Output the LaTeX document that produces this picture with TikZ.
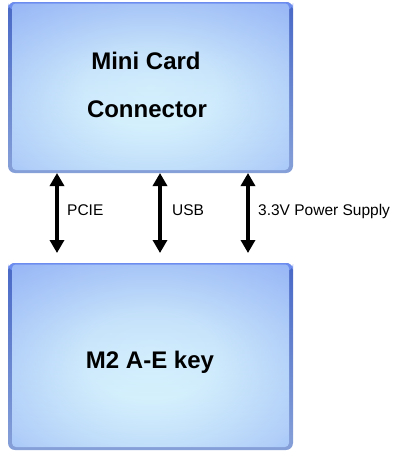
\documentclass[tikz,border=0pt]{standalone}
\usepackage{fontspec}
\setmainfont{Liberation Sans}
\usetikzlibrary{arrows.meta,fadings}
\definecolor{edgeblue}{HTML}{4868C6}
\definecolor{edgelow}{HTML}{86A0D8}
\definecolor{outerblue}{HTML}{8EAEF5}
\definecolor{topblue}{HTML}{6C8CF0}
\definecolor{innercyan}{HTML}{E4FFFF}
\pgfdeclareradialshading{cardshade}{\pgfpointorigin}{color(0bp)=(innercyan); color(12bp)=(innercyan!92!outerblue); color(32bp)=(innercyan!42!outerblue); color(48bp)=(outerblue); color(50bp)=(outerblue)}
\tikzset{
  card/.style={rounded corners=4pt, shading=cardshade, draw=none},
  bus/.style={line width=3.6pt, {Triangle[length=13pt,width=14pt]}-{Triangle[length=13pt,width=14pt]}, black},
  title/.style={font=\bfseries\fontsize{24}{28}\selectfont, anchor=base, inner sep=0pt},
  lbl/.style={font=\fontsize{15.5}{18}\selectfont, anchor=base west, inner sep=0pt}
}
\newcommand{\cardbox}[4]{% x1,y1,x2,y2
  \shade[top color=edgeblue, bottom color=edgelow, rounded corners=7pt] (#1,#2) rectangle (#3,#4);
  \fill[topblue, rounded corners=7pt] (#1,#2) rectangle (#3,#2+8);
  \shade[card] (#1+4,#2+1.5) rectangle (#3-4,#4-3);
  \fill[topblue, opacity=0.3, path fading=south, rounded corners=4pt] (#1+4,#2+1.5) rectangle (#3-4,#4-3);
}
\begin{document}
\begin{tikzpicture}[x=1pt,y=-1pt]
\useasboundingbox (0,0) rectangle (398,451);
% top box
\cardbox{8}{2}{293}{173}
\node[title] (t1) at (146,69) {Mini Card};
\node[title] (t2) at (147,117) {Connector};
% bottom box
\cardbox{8}{263}{293}{450}
\node[title] (t3) at (150,368) {M2 A-E key};
% connector endpoints
\coordinate (a1) at (57,173);
\coordinate (a2) at (57,253);
\coordinate (b1) at (160,173);
\coordinate (b2) at (160,253);
\coordinate (c1) at (248,173);
\coordinate (c2) at (248,253);
\draw[bus] (a1) -- (a2);
\draw[bus] (b1) -- (b2);
\draw[bus] (c1) -- (c2);
\node[lbl] (l1) at (67,215) {PCIE};
\node[lbl] (l2) at (172,215) {USB};
\node[lbl] (l3) at (258,215) {3.3V Power Supply};
\end{tikzpicture}
\end{document}
